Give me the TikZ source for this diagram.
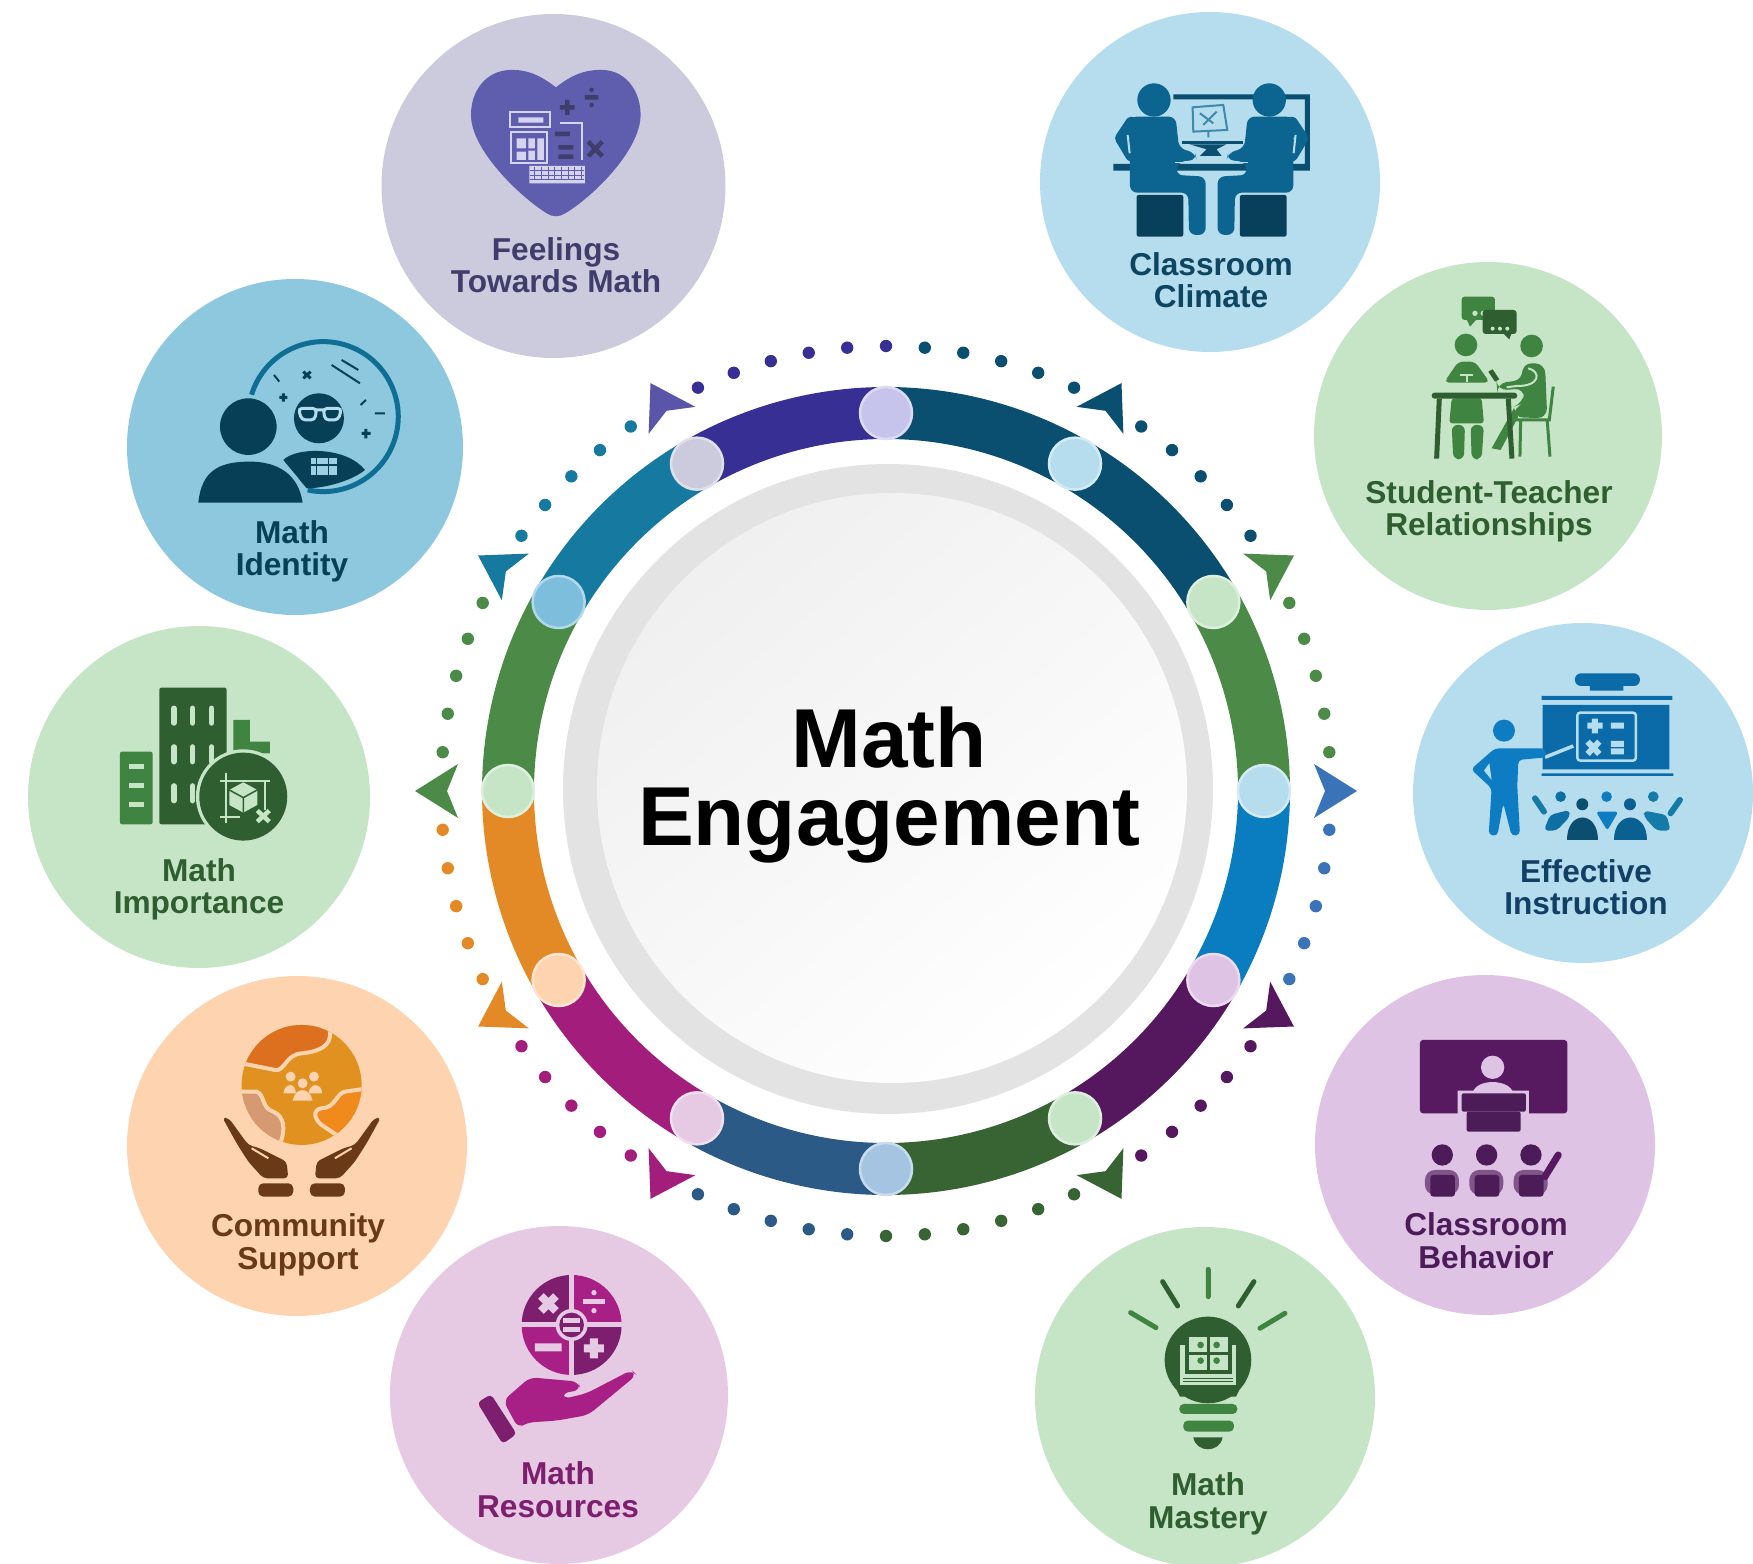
\documentclass[tikz,border=0pt]{standalone}
\usepackage{fontspec}
\setmainfont{Liberation Sans}
\usepackage{tikz}
\usetikzlibrary{calc}

% Discs behind the icons
\definecolor{feelbg}{HTML}{CBCBDD}
\definecolor{climatebg}{HTML}{B5DDEE}
\definecolor{teacherbg}{HTML}{C6E5C6}
\definecolor{behaviorbg}{HTML}{DFC3E4}
\definecolor{resourcebg}{HTML}{E6C9E2}
\definecolor{communitybg}{HTML}{FDD4AF}
\definecolor{identitybg}{HTML}{8DC8DF}
% Label and icon inks
\definecolor{feelink}{HTML}{3F3D6B}
\definecolor{feelmid}{HTML}{5F5DAE}
\definecolor{feelpale}{HTML}{D5D3EE}
\definecolor{climateink}{HTML}{0E4560}
\definecolor{climatemid}{HTML}{0B6590}
\definecolor{greenink}{HTML}{2F5F30}
\definecolor{greenmid}{HTML}{3F8440}
\definecolor{boardink}{HTML}{123F66}
\definecolor{boardmid}{HTML}{0B6BA8}
\definecolor{boardlight}{HTML}{0E7CC2}
\definecolor{behaviorink}{HTML}{4C1C58}
\definecolor{behaviormid}{HTML}{57195F}
\definecolor{resourceink}{HTML}{7E1E6E}
\definecolor{resourcemid}{HTML}{A81F85}
\definecolor{communityink}{HTML}{6A3A16}
\definecolor{identityink}{HTML}{073F57}
\definecolor{identitymid}{HTML}{0F6E93}
\definecolor{globemid}{HTML}{E0911F}
\definecolor{globetop}{HTML}{DD701F}
\definecolor{globeright}{HTML}{F08A1D}
\definecolor{globeleft}{HTML}{D69A72}
% Ring colours
\definecolor{ringteal}{HTML}{0A4F70}
\definecolor{ringgreen}{HTML}{4C8A48}
\definecolor{ringblue}{HTML}{0A7DC0}
\definecolor{ringpurple}{HTML}{55185F}
\definecolor{ringforest}{HTML}{386433}
\definecolor{ringnavy}{HTML}{2A5A85}
\definecolor{ringmagenta}{HTML}{A31D7C}
\definecolor{ringorange}{HTML}{E38A26}
\definecolor{ringsea}{HTML}{16799F}
\definecolor{ringindigo}{HTML}{372F93}
\definecolor{dotblue}{HTML}{3A73B8}
\definecolor{tipindigo}{HTML}{5A55A8}
% Ring joints
\definecolor{jointlav}{HTML}{C6C3EC}
\definecolor{jointsky}{HTML}{A4C4E2}
\definecolor{jointsea}{HTML}{7DBEDD}

\begin{document}
\begin{tikzpicture}[x=0.1mm,y=-0.1mm,
    disc/.style={circle,inner sep=0pt,minimum size=34mm},
    topic/.style={anchor=base,align=center,inner sep=0pt,font=\bfseries\fontsize{9}{9.25}\selectfont},
    band/.style={line width=5.2mm},
    joint/.style={circle,inner sep=0pt,minimum size=5.2mm,line width=0.25mm},
    icon/.style 2 args={shift={(#1,#2)},x=0.03333mm,y=-0.03333mm},
    thinline/.style={line width=0.2mm},
    glyph/.style={line width=0.45mm}]
    \useasboundingbox (0,0) rectangle (1753,1564);

    % The discs
    \node[disc,fill=feelbg,minimum size=34.4mm] (feelings) at (553.5,186) {};
    \node[disc,fill=climatebg] (climate) at (1210,182) {};
    \node[disc,fill=teacherbg,minimum size=34.8mm] (teacher) at (1488,436) {};
    \node[disc,fill=climatebg] (instruction) at (1583,793) {};
    \node[disc,fill=behaviorbg] (behavior) at (1485,1145) {};
    \node[disc,fill=teacherbg] (mastery) at (1205,1397) {};
    \node[disc,fill=resourcebg,minimum size=33.8mm] (resources) at (559,1395) {};
    \node[disc,fill=communitybg] (community) at (297,1146) {};
    \node[disc,fill=teacherbg,minimum size=34.2mm] (importance) at (199,797) {};
    \node[disc,fill=identitybg,minimum size=33.6mm] (identity) at (295,447) {};

    % The labels
    \node[topic,text=feelink] (feelingstext) at (556,293) {Feelings\\Towards Math};
    \node[topic,text=climateink] (climatetext) at (1211,308) {Classroom\\Climate};
    \node[topic,text=greenink] (teachertext) at (1489,536) {Student-Teacher\\Relationships};
    \node[topic,text=boardink] (instructiontext) at (1586,915) {Effective\\Instruction};
    \node[topic,text=behaviorink] (behaviortext) at (1486,1268) {Classroom\\Behavior};
    \node[topic,text=greenink] (masterytext) at (1208,1528) {Math\\Mastery};
    \node[topic,text=resourceink] (resourcestext) at (558,1517) {Math\\Resources};
    \node[topic,text=communityink] (communitytext) at (298,1269) {Community\\Support};
    \node[topic,text=greenink] (importancetext) at (199,914) {Math\\Importance};
    \node[topic,text=identityink] (identitytext) at (292,576) {Math\\Identity};

    % The ring, angles counted the usual way round
    \begin{scope}[shift={(886,791)},y=0.1mm]
        \fill[black!11] (2,2) circle (325);
        \shade[top color=black!6,bottom color=white,shading angle=40] (6,3) circle (295);
        \foreach \a/\b/\col in {90/30/ringteal,30/0/ringgreen,0/-30/ringblue,-30/-60/ringpurple,
            -60/-90/ringforest,-90/-120/ringnavy,-120/-150/ringmagenta,-150/-180/ringorange,
            180/150/ringgreen,150/120/ringsea,120/90/ringindigo}
            \draw[band,draw=\col] (\a:378) arc[start angle=\a,end angle=\b,radius=378];
        \foreach \a/\col in {90/jointlav,60/climatebg,30/teacherbg,0/climatebg,-30/behaviorbg,
            -60/teacherbg,-90/jointsky,-120/resourcebg,-150/communitybg,180/teacherbg,
            150/jointsea,120/feelbg}
            \node[joint,fill=\col,draw=\col!60!white] (joint\a) at (\a:378) {};

        % The dotted circle
        \foreach \s/\n/\col in {90/5/ringindigo,65/4/ringteal,35/4/ringteal,5/4/ringgreen,
            -25/4/dotblue,-55/4/ringpurple,-90/5/ringforest,-115/4/ringnavy,-145/4/ringmagenta,
            -175/4/ringorange,155/4/ringgreen,125/4/ringsea}
            \foreach \i in {0,...,\n}
                \fill[\col] (\s+5*\i:445) circle (6.2);

        % The tips
        \foreach \a/\col in {120/tipindigo,60/ringteal,30/ringgreen,0/dotblue,-30/ringpurple,
            -60/ringforest,-120/ringmagenta,-150/ringorange,180/ringgreen,150/ringsea}
            \fill[\col,rotate=\a] (471,0) -- (428,27) -- (439,0) -- (428,-27) -- cycle;
    \end{scope}
    \node[align=center,inner sep=0pt,font=\bfseries\fontsize{23.8}{22.2}\selectfont] (title) at (889,785) {Math\\Engagement};

    % Feelings Towards Math
    \begin{scope}[icon={370}{0}]
        \fill[feelmid] (558,262) .. controls (510,225) and (470,208) .. (420,210)
            .. controls (350,212) and (303,270) .. (303,345)
            .. controls (303,450) and (450,590) .. (530,640)
            .. controls (548,652) and (568,652) .. (586,640)
            .. controls (670,590) and (812,450) .. (812,345)
            .. controls (812,270) and (765,212) .. (700,210)
            .. controls (645,208) and (605,225) .. (558,262) -- cycle;
        \draw[feelpale,thinline] (420,335) rectangle (540,382) (422,395) rectangle (532,490);
        \draw[feelpale,thinline] (570,368) -- (637,368) -- (637,480);
        \fill[feelpale] (445,352) rectangle (520,368) (440,415) rectangle (468,445)
            (475,415) rectangle (495,445) (440,455) rectangle (468,480)
            (475,452) rectangle (495,480) (502,415) rectangle (522,480)
            (478,498) rectangle (645,550);
        \draw[feelmid,line width=0.1mm] (480,512) -- (643,512) (480,526) -- (643,526) (480,540) -- (643,540);
        \foreach \x in {495,515,...,635}
            \draw[feelmid,line width=0.1mm] (\x,500) -- (\x,540);
        \draw[feelink,glyph] (570,322) -- (614,322) (592,300) -- (592,345)
            (645,292) -- (685,292) (655,425) -- (697,469) (697,425) -- (655,469)
            (555,402) -- (600,402) (565,442) -- (610,442) (565,470) -- (610,470);
        \fill[feelink] (665,270) circle (7) (665,315) circle (7);
    \end{scope}

    % Classroom Climate
    \begin{scope}[icon={1030}{0}]
        \fill[ringteal] (430,283) rectangle (840,298) (825,283) rectangle (840,510)
            (250,492) rectangle (840,512);
        \fill[ringteal] (455,423) rectangle (640,433);
        \fill[ringteal] (478,433) -- (590,433) -- (560,448) -- (575,468) -- (510,468) -- (530,448) -- cycle;
        \draw[climatemid!70!climatebg,thinline] (488,322) -- (580,315) -- (592,390) -- (490,395) -- cycle;
        \draw[climatemid!70!climatebg,thinline] (510,340) -- (550,370) (520,375) -- (560,335) (535,395) -- (535,412);
        \foreach \flip in {1,-1} {
            \begin{scope}[shift={(545,0)},xscale=\flip]
                \fill[ringteal!80!black,rounded corners=0.2mm] (-225,585) rectangle (-85,710);
                \fill[climatemid] (-173,300) circle (50);
                \draw[climatemid,line width=1.3mm,line cap=round,line join=round] (-240,370) -- (-270,415) -- (-240,465);
                \fill[climatemid,rounded corners=0.7mm] (-245,350) -- (-108,350) -- (-98,445) -- (-50,458)
                    -- (-45,480) -- (-100,485) -- (-108,525) -- (-18,530) -- (-18,705) -- (-68,705)
                    -- (-70,578) -- (-245,578) -- cycle;
                \draw[climatebg,thinline] (-252,405) -- (-246,460);
                \fill[climatebg] (-110,487) rectangle (-20,490);
            \end{scope}
        }
    \end{scope}

    % Student-Teacher Relationships
    \begin{scope}[icon={1310}{260}]
        \fill[greenmid,rounded corners=0.3mm] (455,110) rectangle (555,180);
        \fill[greenmid] (470,178) -- (480,200) -- (500,178) -- cycle;
        \fill[teacherbg] (495,160) circle (8) (520,160) circle (8);
        \fill[greenink,rounded corners=0.3mm] (518,150) rectangle (620,222);
        \fill[greenink] (580,220) -- (598,238) -- (605,220) -- cycle;
        \fill[teacherbg] (548,206) circle (6) (570,206) circle (6) (592,206) circle (6);
        \fill[greenmid] (468,255) circle (34) (665,258) circle (34);
        \fill[greenmid,rounded corners=0.5mm] (445,305) -- (495,305) -- (540,368) -- (402,368) -- cycle;
        \fill[greenmid,rounded corners=0.3mm] (425,415) -- (515,415) -- (522,490) -- (418,490) -- cycle;
        \fill[greenmid,rounded corners=0.6mm] (425,495) -- (465,495) -- (462,598) -- (430,598) -- cycle
            (482,495) -- (522,495) -- (515,598) -- (485,598) -- cycle;
        \draw[teacherbg,thinline] (450,345) -- (490,345) (470,345) -- (470,365);
        \fill[greenmid,rounded corners=1mm] (635,310) -- (705,310) -- (712,475) -- (610,472) -- (612,440) -- (640,430) -- (645,385) -- (562,392) -- (560,370) -- (640,360) -- cycle;
        \draw[teacherbg,thinline] (655,325) .. controls (695,335) and (690,380) .. (620,378) -- (590,382);
        \fill[greenmid] (612,445) -- (545,565) -- (572,570) -- (625,470) -- cycle;
        \fill[greenink] (535,335) -- (548,328) -- (568,358) -- (555,365) -- cycle;
        \fill[greenink,rounded corners=0.3mm] (365,398) rectangle (622,416);
        \draw[greenink,line width=0.5mm] (388,416) -- (380,596) (595,416) -- (606,596);
        \draw[greenmid,line width=0.3mm] (730,380) -- (718,480) -- (615,480) (632,482) -- (630,590) (712,482) -- (720,590);
    \end{scope}

    % Effective Instruction
    \begin{scope}[icon={1410}{620}]
        \fill[boardmid,rounded corners=0.6mm] (495,160) rectangle (690,198);
        \fill[boardmid] (540,198) rectangle (640,212) (395,228) rectangle (787,240)
            (398,255) rectangle (778,448) (395,460) rectangle (790,468);
        \draw[climatebg,line width=0.25mm,rounded corners=0.3mm] (502,278) rectangle (678,422);
        \draw[climatebg,line width=0.6mm] (532,317) -- (578,317) (555,296) -- (555,340)
            (603,317) -- (642,317) (533,365) -- (568,402) (568,365) -- (533,402)
            (603,372) -- (642,372) (603,394) -- (642,394);
        \draw[climatebg,line width=0.35mm] (405,412) -- (490,378);
        \fill[boardlight] (282,332) circle (33);
        \fill[boardlight,rounded corners=0.4mm] (255,385) -- (405,385) -- (410,412) -- (325,420) -- (322,500)
            -- (330,645) -- (305,648) -- (280,550) -- (262,648) -- (236,645) -- (245,505) -- (183,448) -- cycle;
        \fill[climatebg] (238,430) -- (222,452) -- (245,480) -- cycle;
        \fill[boardmid!70!ringsea] (452,530) circle (16);
        \fill[ringsea!75!boardlight] (730,530) circle (16);
        \fill[boardlight] (590,530) circle (16);
        \fill[ringteal] (517,553) circle (18);
        \fill[boardmid!60!ringteal] (660,553) circle (18);
        \draw[ringsea!75!boardlight,line width=0.6mm,line cap=round] (375,535) -- (402,575) (810,540) -- (782,580);
        \fill[boardmid!70!ringsea,rounded corners=0.4mm] (402,632) -- (420,585) -- (478,570) -- (480,590) -- (440,632) -- cycle;
        \fill[ringsea!75!boardlight,rounded corners=0.4mm] (782,632) -- (770,585) -- (702,572) -- (702,590) -- (740,632) -- cycle;
        \fill[boardlight,rounded corners=0.3mm] (558,575) -- (625,575) -- (592,632) -- cycle;
        \fill[ringteal] (470,660) .. controls (470,570) and (565,570) .. (565,660) -- cycle;
        \fill[boardmid!60!ringteal] (613,660) .. controls (613,570) and (710,570) .. (710,660) -- cycle;
    \end{scope}

    % Classroom Behavior
    \begin{scope}[icon={1310}{980}]
        \fill[behaviormid,rounded corners=0.3mm] (330,180) rectangle (772,400);
        \fill[behaviorbg] (548,262) circle (35);
        \fill[behaviorbg] (488,340) .. controls (495,295) and (600,295) .. (610,340) -- cycle;
        \fill[behaviorbg] (443,332) rectangle (657,402) (458,402) rectangle (644,460);
        \fill[behaviorink,rounded corners=0.2mm] (455,340) rectangle (648,395);
        \fill[behaviorink,rounded corners=0.2mm] (470,395) rectangle (632,455);
        \foreach \x in {397,530,663} {
            \fill[behaviorink] (\x,525) circle (32);
            \fill[behaviorink!65!behaviorbg,rounded corners=1mm] (\x-52,645) -- (\x-52,570) -- (\x+50,570) -- (\x+50,645) -- cycle;
            \fill[behaviorink,rounded corners=0.3mm] (\x-36,585) rectangle (\x+38,650);
        }
        \draw[behaviormid,line width=0.7mm,line cap=round] (705,590) -- (745,525);
    \end{scope}

    % Math Mastery
    \begin{scope}[icon={1030}{1230}]
        \draw[line width=0.5mm,line cap=round,greenmid] (535,118) -- (535,200) (302,248) -- (378,293) (765,250) -- (690,295);
        \draw[line width=0.5mm,line cap=round,greenink] (398,155) -- (443,228) (672,155) -- (625,228);
        \fill[greenink] (534,390) circle (130);
        \fill[greenink] (440,480) -- (628,480) -- (618,500) -- (450,500) -- cycle;
        \fill[greenmid,rounded corners=0.45mm] (448,522) rectangle (622,552) (460,572) rectangle (612,605);
        \fill[greenink] (490,622) -- (578,622) .. controls (570,670) and (498,670) .. (490,622) -- cycle;
        \fill[teacherbg] (450,345) -- (618,345) -- (618,465) -- (450,465) -- cycle;
        \fill[greenink] (465,338) rectangle (605,432);
        \fill[teacherbg] (478,320) rectangle (595,420);
        \draw[greenink,line width=0.25mm] (478,370) -- (595,370) (535,320) -- (535,420);
        \fill[greenmid] (512,345) circle (10) (560,345) circle (10) (512,392) circle (10) (560,392) circle (10);
        \draw[greenink,line width=0.15mm] (460,445) -- (610,445) (460,455) -- (610,455);
    \end{scope}

    % Math Resources
    \begin{scope}[icon={390}{1230}]
        \begin{scope}
            \clip (545,285) circle (150);
            \fill[resourceink] (390,130) rectangle (545,285) (545,285) rectangle (700,440);
            \fill[resourcemid] (545,130) rectangle (700,285) (390,285) rectangle (545,440);
        \end{scope}
        \draw[resourcebg,line width=0.5mm] (390,285) -- (700,285) (545,130) -- (545,440);
        \fill[resourcebg] (545,285) circle (48);
        \fill[resourceink] (545,285) circle (37);
        \draw[resourcebg,line width=0.5mm] (520,272) -- (570,272) (520,298) -- (570,298);
        \draw[resourcebg,line width=0.8mm] (453,198) -- (498,243) (498,198) -- (453,243) (435,352) -- (515,352) (582,355) -- (642,355) (612,325) -- (612,385);
        \draw[resourcebg,line width=0.5mm] (580,215) -- (645,215);
        \fill[resourcebg] (612,188) circle (8) (612,242) circle (8);
        \fill[resourceink,rounded corners=0.4mm] (262,518) -- (303,493) -- (380,612) -- (338,642) -- cycle;
        \fill[resourcemid,rounded corners=0.7mm] (340,512) -- (420,442) -- (565,455) -- (572,480) -- (515,490)
            -- (520,507) -- (590,490) -- (725,420) -- (740,435) -- (595,555) -- (500,572) -- (410,578) -- (385,595) -- cycle;
    \end{scope}

    % Community Support
    \begin{scope}[icon={125}{980}]
        \fill[globemid] (530,315) circle (180);
        \begin{scope}
            \clip (530,315) circle (180);
            \draw[communitybg,line width=0.4mm,fill=globetop] (350,250) -- (450,270) .. controls (480,275) and (480,225) .. (530,220)
                .. controls (580,215) and (620,200) .. (615,155) -- (600,100) -- (350,100) -- cycle;
            \draw[communitybg,line width=0.4mm,fill=globeright] (730,325) -- (660,335) .. controls (635,340) and (630,385) .. (590,385)
                .. controls (560,390) and (570,420) .. (590,435) -- (635,465) -- (730,480) -- cycle;
            \draw[communitybg,line width=0.4mm,fill=globeleft] (330,335) -- (395,335) .. controls (420,345) and (410,385) .. (445,395)
                .. controls (480,410) and (480,450) .. (468,485) -- (400,500) -- (330,500) -- cycle;
        \end{scope}
        \fill[communitybg] (497,290) circle (15) (567,290) circle (15) (533,310) circle (15);
        \fill[communitybg] (475,340) .. controls (480,305) and (515,310) .. (512,340) -- cycle;
        \fill[communitybg] (552,340) .. controls (550,310) and (590,305) .. (592,340) -- cycle;
        \fill[communitybg] (503,362) .. controls (510,320) and (555,320) .. (563,362) -- cycle;
        \foreach \flip in {1,-1} {
            \begin{scope}[shift={(530,0)},xscale=\flip]
                \fill[communityink,rounded corners=0.4mm] (-238,412) -- (-218,415) -- (-160,495) -- (-125,505)
                    -- (-45,545) -- (-40,595) -- (-115,595) -- (-160,545) -- (-195,490) -- cycle;
                \draw[communitybg,thinline] (-150,505) -- (-100,535);
                \fill[communityink,rounded corners=0.5mm] (-130,610) rectangle (-25,650);
            \end{scope}
        }
    \end{scope}

    % Math Importance
    \begin{scope}[icon={20}{620}]
        \fill[greenmid,rounded corners=0.2mm] (300,395) rectangle (398,613);
        \foreach \y in {440,497,553}
            \draw[teacherbg,line width=0.5mm] (327,\y) -- (372,\y);
        \fill[greenink,rounded corners=0.2mm] (418,203) rectangle (620,613);
        \foreach \x in {462,518,575}
            \foreach \y in {287,403,520}
                \draw[teacherbg,line width=0.55mm,line cap=round] (\x,\y-22) -- (\x,\y+22);
        \fill[greenmid] (640,300) -- (690,300) -- (690,365) -- (750,365) -- (750,400) -- (640,400) -- cycle;
        \fill[teacherbg] (670,530) circle (142);
        \fill[greenink] (670,530) circle (132);
        \fill[teacherbg] (670,487) -- (712,510) -- (712,555) -- (670,578) -- (628,555) -- (628,510) -- cycle;
        \draw[greenink,line width=0.15mm] (628,510) -- (670,533) -- (712,510) (670,533) -- (670,578);
        \draw[teacherbg,thinline] (600,482) -- (750,482) (600,590) -- (660,590) (618,460) -- (618,610) (735,482) -- (735,570);
        \draw[teacherbg,glyph] (712,572) -- (748,605) (748,572) -- (712,605);
    \end{scope}

    % Math Identity
    \begin{scope}[icon={120}{270}]
        \draw[identitymid,line width=0.5mm] (610,440) ++(197:225) arc[start angle=197,end angle=462,radius=225];
        \fill[identityink] (597,445) circle (75);
        \draw[climatebg,line width=0.3mm,rounded corners=0.4mm] (535,415) -- (590,415) -- (585,450) -- (545,450) -- cycle
            (610,415) -- (665,415) -- (655,450) -- (615,450) -- cycle (590,420) -- (610,420);
        \fill[identityink] (490,570) .. controls (530,530) and (680,530) .. (735,600)
            .. controls (700,630) and (620,655) .. (560,655) -- cycle;
        \fill[identitybg!85!white] (572,565) rectangle (650,615);
        \draw[identityink,line width=0.15mm] (572,585) -- (650,585) (590,565) -- (590,615) (625,565) -- (625,615);
        \draw[identitybg,line width=0.4mm] (230,700) .. controls (240,590) and (300,567) .. (390,567) .. controls (470,567) and (540,600) .. (555,700);
        \fill[identityink] (385,470) circle (85);
        \fill[identityink] (235,698) .. controls (245,600) and (300,575) .. (390,575)
            .. controls (470,575) and (535,610) .. (548,698) -- cycle;
        \draw[identityink,thinline] (462,315) -- (478,335) (635,285) -- (720,340) (665,270) -- (715,300)
            (722,405) -- (738,390) (765,430) -- (795,430);
        \draw[identityink,line width=0.3mm] (550,305) -- (572,325) (572,305) -- (550,325)
            (478,382) -- (502,382) (490,370) -- (490,395) (725,490) -- (752,490) (738,477) -- (738,505);
    \end{scope}
\end{tikzpicture}
\end{document}
